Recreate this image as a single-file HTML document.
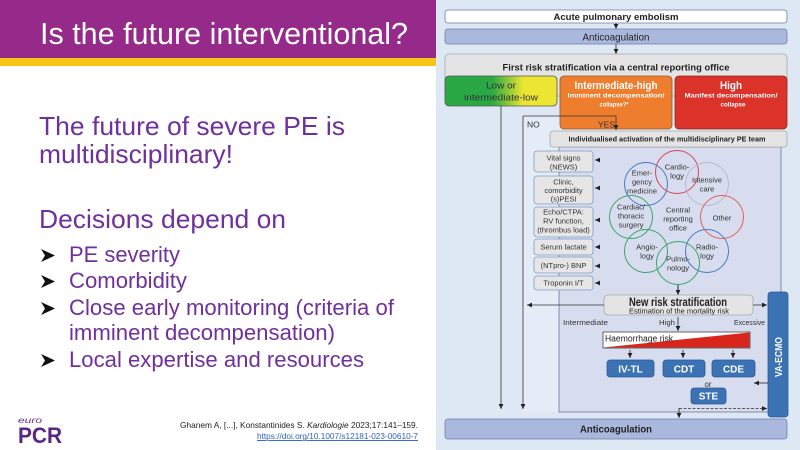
<!DOCTYPE html>
<html><head><meta charset="utf-8"><style>
html,body{margin:0;padding:0;width:800px;height:450px;overflow:hidden;background:#fff}
svg{display:block}
text{font-family:"Liberation Sans",sans-serif}
</style></head><body>
<svg width="800" height="450" viewBox="0 0 800 450" xmlns="http://www.w3.org/2000/svg">
<defs>
<linearGradient id="gy" x1="0" x2="1" y1="0" y2="0">
<stop offset="0.42" stop-color="#2aa845"/><stop offset="0.7" stop-color="#ece632"/></linearGradient>
<marker id="ah" markerWidth="6" markerHeight="6" refX="5" refY="3" orient="auto" markerUnits="userSpaceOnUse"><path d="M0,0.6 L5,3 L0,5.4z" fill="#222"/></marker>
</defs>

<!-- left slide -->
<rect x="0" y="0" width="436" height="450" fill="#fff"/>
<rect x="0" y="0" width="436" height="58" fill="#952a8b"/>
<rect x="0" y="58" width="436" height="8" fill="#f5c518"/>
<text x="40" y="44" font-size="30.5" fill="#fff" textLength="368" lengthAdjust="spacingAndGlyphs">Is the future interventional?</text>

<g fill="#6f2f9c">
<text x="39" y="135" font-size="26" textLength="306" lengthAdjust="spacingAndGlyphs">The future of severe PE is</text>
<text x="39" y="163" font-size="26" textLength="194" lengthAdjust="spacingAndGlyphs">multidisciplinary!</text>
<text x="39" y="228" font-size="26" textLength="247" lengthAdjust="spacingAndGlyphs">Decisions depend on</text>
<text x="69" y="262" font-size="22" textLength="111" lengthAdjust="spacingAndGlyphs">PE severity</text>
<text x="69" y="288" font-size="22" textLength="118" lengthAdjust="spacingAndGlyphs">Comorbidity</text>
<text x="69" y="315" font-size="22" textLength="325" lengthAdjust="spacingAndGlyphs">Close early monitoring (criteria of</text>
<text x="69" y="340" font-size="22" textLength="266" lengthAdjust="spacingAndGlyphs">imminent decompensation)</text>
<text x="69" y="367" font-size="22" textLength="295" lengthAdjust="spacingAndGlyphs">Local expertise and resources</text>
</g>
<g fill="#111">
<path d="M41,249 L55,255.5 L41,262 L45,255.5z"/>
<path d="M41,275 L55,281.5 L41,288 L45,281.5z"/>
<path d="M41,302 L55,308.5 L41,315 L45,308.5z"/>
<path d="M41,354 L55,360.5 L41,367 L45,360.5z"/>
</g>

<text x="180" y="428" font-size="8.5" fill="#222" textLength="238" lengthAdjust="spacingAndGlyphs">Ghanem A, [...], Konstantinides S. <tspan font-style="italic">Kardiologie</tspan> 2023;17:141–159.</text>
<text x="257" y="439" font-size="8.5" fill="#3060c0" text-decoration="underline" textLength="161" lengthAdjust="spacingAndGlyphs">https://doi.org/10.1007/s12181-023-00610-7</text>
<line x1="257" y1="440.5" x2="418" y2="440.5" stroke="#3060c0" stroke-width="0.6"/>

<text x="18" y="423" font-size="8.5" font-style="italic" fill="#6a2c8e" textLength="24" lengthAdjust="spacingAndGlyphs">euro</text>
<text x="18" y="443" font-size="22" font-weight="bold" fill="#5a2585" textLength="44" lengthAdjust="spacingAndGlyphs">PCR</text>

<!-- diagram panel -->
<rect x="436" y="0" width="364" height="450" fill="#dde8f4"/>
<rect x="523" y="116" width="258" height="296" fill="#e4ecf7"/>
<rect x="559" y="147" width="222" height="265" fill="#d7ddef" stroke="#6f7690" stroke-width="0.8"/>

<!-- top boxes -->
<rect x="445" y="10" width="342" height="13" rx="3" fill="#fff" stroke="#6b7ea6" stroke-width="0.8"/>
<text x="616" y="20" font-size="9.5" font-weight="bold" fill="#222" text-anchor="middle" textLength="125" lengthAdjust="spacingAndGlyphs">Acute pulmonary embolism</text>
<line x1="616" y1="23" x2="616" y2="29" stroke="#222" stroke-width="0.8" marker-end="url(#ah)"/>
<rect x="445" y="29" width="342" height="15" rx="3" fill="#aab8de" stroke="#6b7ea6" stroke-width="0.8"/>
<text x="616" y="40.5" font-size="10" fill="#222" text-anchor="middle" textLength="67" lengthAdjust="spacingAndGlyphs">Anticoagulation</text>
<line x1="616" y1="44" x2="616" y2="54" stroke="#222" stroke-width="0.8" marker-end="url(#ah)"/>

<rect x="445" y="54" width="342" height="42" rx="4" fill="#e4e4e4" stroke="#a8a8a8" stroke-width="0.8"/>
<text x="616" y="70.5" font-size="9.5" font-weight="bold" fill="#222" text-anchor="middle" textLength="227" lengthAdjust="spacingAndGlyphs">First risk stratification via a central reporting office</text>

<rect x="445" y="76" width="112" height="30" rx="4" fill="url(#gy)" stroke="#555" stroke-width="0.8"/>
<text x="501" y="88.5" font-size="9.5" fill="#333" text-anchor="middle" textLength="30" lengthAdjust="spacingAndGlyphs">Low or</text>
<text x="501" y="100.5" font-size="9.5" fill="#333" text-anchor="middle" textLength="74" lengthAdjust="spacingAndGlyphs">intermediate-low</text>

<rect x="560" y="76" width="112" height="53" rx="4" fill="#ee7d2e" stroke="#8d5a36" stroke-width="0.8"/>
<text x="616" y="89" font-size="11" font-weight="bold" fill="#fff" text-anchor="middle" textLength="83" lengthAdjust="spacingAndGlyphs">Intermediate-high</text>
<text x="616" y="97.5" font-size="6.5" font-weight="bold" fill="#fff" text-anchor="middle" textLength="97" lengthAdjust="spacingAndGlyphs">Imminent decompensation/</text>
<text x="614" y="106.5" font-size="6.5" font-weight="bold" fill="#fff" text-anchor="middle" textLength="29" lengthAdjust="spacingAndGlyphs">collapse?*</text>

<rect x="675" y="76" width="112" height="53" rx="4" fill="#db3229" stroke="#8a2a22" stroke-width="0.8"/>
<text x="731" y="89" font-size="11" font-weight="bold" fill="#fff" text-anchor="middle" textLength="22" lengthAdjust="spacingAndGlyphs">High</text>
<text x="731" y="97.5" font-size="6.5" font-weight="bold" fill="#fff" text-anchor="middle" textLength="93" lengthAdjust="spacingAndGlyphs">Manifest decompensation/</text>
<text x="733" y="106.5" font-size="6.5" font-weight="bold" fill="#fff" text-anchor="middle" textLength="25" lengthAdjust="spacingAndGlyphs">collapse</text>

<!-- connectors left -->
<line x1="501" y1="106" x2="501" y2="409" stroke="#333" stroke-width="0.8" marker-end="url(#ah)"/>
<line x1="523" y1="116" x2="523" y2="409" stroke="#333" stroke-width="0.8" marker-end="url(#ah)"/>
<polyline points="523,116 616,116 616,130" fill="none" stroke="#333" stroke-width="0.8" marker-end="url(#ah)"/>
<text x="527" y="127.5" font-size="8.5" fill="#333">NO</text>
<text x="598" y="127.5" font-size="8.5" fill="#333">YES</text>

<rect x="550" y="131" width="237" height="16" rx="3" fill="#e4e4e4" stroke="#a8a8a8" stroke-width="0.8"/>
<text x="667" y="141.5" font-size="7.5" font-weight="bold" fill="#222" text-anchor="middle" textLength="197" lengthAdjust="spacingAndGlyphs">Individualised activation of the multidisciplinary PE team</text>

<!-- list boxes -->
<g fill="#e6e6e6" stroke="#7d9cc8" stroke-width="0.8">
<rect x="534" y="151" width="59" height="21" rx="3"/>
<rect x="534" y="176" width="59" height="28" rx="3"/>
<rect x="534" y="207" width="59" height="30" rx="3"/>
<rect x="534" y="239" width="59" height="16" rx="3"/>
<rect x="534" y="257" width="59" height="16" rx="3"/>
<rect x="534" y="276" width="59" height="14" rx="3"/>
</g>
<g font-size="7.5" fill="#333" text-anchor="middle">
<text x="563.5" y="160.5">Vital signs</text>
<text x="563.5" y="169.5">(NEWS)</text>
<text x="563.5" y="184.5">Clinic,</text>
<text x="563.5" y="193">comorbidity</text>
<text x="563.5" y="201.5">(s)PESI</text>
<text x="563.5" y="214.5">Echo/CTPA:</text>
<text x="563.5" y="223.5">RV function,</text>
<text x="563.5" y="232.5">(thrombus load)</text>
<text x="563.5" y="249.5">Serum lactate</text>
<text x="563.5" y="268">(NTpro-) BNP</text>
<text x="563.5" y="285.5">Troponin I/T</text>
</g>
<g stroke="#222" stroke-width="0.8">
<line x1="600" y1="160" x2="595" y2="160" marker-end="url(#ah)"/>
<line x1="600" y1="188" x2="595" y2="188" marker-end="url(#ah)"/>
<line x1="600" y1="220" x2="595" y2="220" marker-end="url(#ah)"/>
<line x1="600" y1="247" x2="595" y2="247" marker-end="url(#ah)"/>
<line x1="600" y1="266" x2="595" y2="266" marker-end="url(#ah)"/>
<line x1="600" y1="283" x2="595" y2="283" marker-end="url(#ah)"/>
</g>

<!-- circles -->
<g fill="none" stroke-width="1">
<circle cx="677" cy="172" r="21.5" stroke="#d9435a"/>
<circle cx="646" cy="184" r="21.5" stroke="#4a78c0"/>
<circle cx="707" cy="184" r="21.5" stroke="#b5b9c6"/>
<circle cx="631" cy="217" r="21.5" stroke="#3aa36a"/>
<circle cx="722" cy="217" r="21.5" stroke="#e0605a"/>
<circle cx="646" cy="251" r="21.5" stroke="#3aa36a"/>
<circle cx="707" cy="251" r="21.5" stroke="#4a78c0"/>
<circle cx="678" cy="263" r="21.5" stroke="#3aa36a"/>
</g>
<g font-size="7.5" fill="#333" text-anchor="middle">
<text x="677" y="169.5">Cardio-</text><text x="677" y="178.5">logy</text>
<text x="642" y="175.5">Emer-</text><text x="642" y="184.5">gency</text><text x="642" y="193.5">medicine</text>
<text x="707" y="182.5">Intensive</text><text x="707" y="191.5">care</text>
<text x="631" y="209.5">Cardiac/</text><text x="631" y="218.5">thoracic</text><text x="631" y="227.5">surgery</text>
<text x="678" y="212.5">Central</text><text x="678" y="221.5">reporting</text><text x="678" y="230.5">office</text>
<text x="722" y="220.5">Other</text>
<text x="647" y="249.5">Angio-</text><text x="647" y="258.5">logy</text>
<text x="707" y="249.5">Radio-</text><text x="707" y="258.5">logy</text>
<text x="678" y="261.5">Pulmo-</text><text x="678" y="270.5">nology</text>
</g>
<line x1="678" y1="285" x2="678" y2="295" stroke="#222" stroke-width="1" marker-end="url(#ah)"/>

<!-- new risk -->
<rect x="604" y="295" width="149" height="20" rx="4" fill="#e4e4e4" stroke="#a8a8a8" stroke-width="0.8"/>
<text x="678" y="306" font-size="11.5" font-weight="bold" fill="#222" text-anchor="middle" textLength="98" lengthAdjust="spacingAndGlyphs">New risk stratification</text>
<text x="679" y="313.5" font-size="7.5" fill="#222" text-anchor="middle" textLength="100" lengthAdjust="spacingAndGlyphs">Estimation of the mortality risk</text>
<line x1="604" y1="305" x2="527" y2="305" stroke="#333" stroke-width="0.8" marker-end="url(#ah)"/>
<line x1="753" y1="305" x2="767" y2="305" stroke="#333" stroke-width="0.8" marker-end="url(#ah)"/>

<rect x="768" y="292" width="20" height="125" rx="3" fill="#3b72b4" stroke="#2b5a94" stroke-width="0.8"/>
<text transform="translate(782,357) rotate(-90)" font-size="10" font-weight="bold" fill="#fff" text-anchor="middle" textLength="40" lengthAdjust="spacingAndGlyphs">VA-ECMO</text>

<g font-size="7.5" fill="#333">
<text x="563" y="325" textLength="45" lengthAdjust="spacingAndGlyphs">Intermediate</text>
<text x="659" y="325" textLength="16" lengthAdjust="spacingAndGlyphs">High</text>
<text x="734" y="325" textLength="31" lengthAdjust="spacingAndGlyphs">Excessive</text>
</g>
<line x1="678" y1="317" x2="678" y2="331" stroke="#222" stroke-width="0.8" marker-end="url(#ah)"/>

<rect x="603" y="332" width="147" height="16" fill="#fff" stroke="#444" stroke-width="0.8"/>
<polygon points="603.5,347.5 749.5,332.5 749.5,347.5" fill="#d9261c"/>
<text x="605" y="341.5" font-size="9" fill="#222" textLength="68" lengthAdjust="spacingAndGlyphs">Haemorrhage risk</text>

<g stroke="#222" stroke-width="0.8">
<line x1="630" y1="350" x2="630" y2="358" marker-end="url(#ah)"/>
<line x1="683" y1="350" x2="683" y2="358" marker-end="url(#ah)"/>
<line x1="733" y1="350" x2="733" y2="358" marker-end="url(#ah)"/>
</g>
<g fill="#3b72b4" stroke="#2b5a94" stroke-width="0.8">
<rect x="607" y="360" width="47" height="17" rx="3"/>
<rect x="663" y="360" width="42" height="17" rx="3"/>
<rect x="712" y="360" width="43" height="17" rx="3"/>
<rect x="691" y="388" width="35" height="16" rx="3"/>
</g>
<g font-size="10" font-weight="bold" fill="#fff" text-anchor="middle">
<text x="630.5" y="372.5">IV-TL</text>
<text x="684" y="372.5">CDT</text>
<text x="733.5" y="372.5">CDE</text>
<text x="708.5" y="399.5">STE</text>
</g>
<text x="708" y="387" font-size="8" fill="#333" text-anchor="middle">or</text>
<line x1="768" y1="383" x2="754" y2="383" stroke="#222" stroke-width="0.8" marker-end="url(#ah)"/>

<line x1="679" y1="408.5" x2="767" y2="408.5" stroke="#333" stroke-width="0.8" stroke-dasharray="3,1.5" marker-end="url(#ah)"/>
<line x1="679" y1="408" x2="679" y2="418" stroke="#222" stroke-width="0.8" marker-end="url(#ah)"/>

<rect x="445" y="419" width="342" height="20" rx="3" fill="#aab8de" stroke="#6b7ea6" stroke-width="0.8"/>
<text x="616" y="432.5" font-size="10" font-weight="bold" fill="#222" text-anchor="middle" textLength="72" lengthAdjust="spacingAndGlyphs">Anticoagulation</text>
</svg>
</body></html>
